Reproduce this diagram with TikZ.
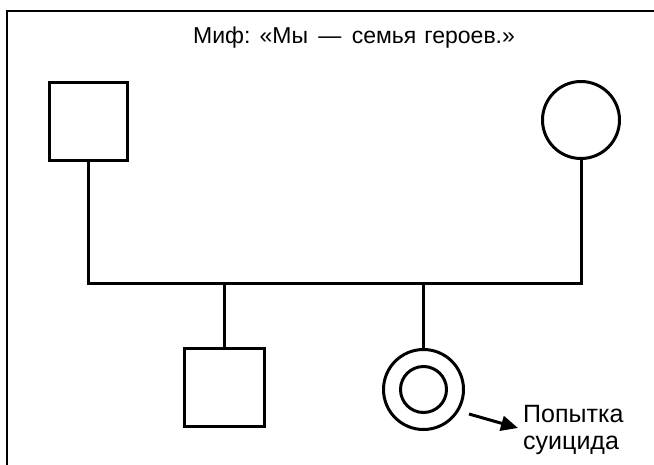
\documentclass[tikz,border=0pt]{standalone}
\usepackage{fontspec}
\setmainfont{Liberation Sans}
\usetikzlibrary{arrows.meta}
\begin{document}
\begin{tikzpicture}[x=1pt,y=-1pt,
  thickline/.style={line width=3pt},
  malebox/.style={draw,line width=3pt,rectangle,minimum width=78pt,minimum height=78pt,inner sep=0pt},
  femalecirc/.style={draw,line width=3pt,circle,minimum size=77pt,inner sep=0pt},
  txt/.style={font=\fontsize{25}{27}\selectfont,inner sep=0pt},
  pointer/.style={line width=3pt,-{Triangle[length=17pt,width=15pt]}}]
\useasboundingbox (0,0) rectangle (654,464);
\begin{scope}
\clip (0,0) rectangle (654,464);
\draw[line width=1.5pt] (7,670) -- (7,11) -- (700,11);
\end{scope}
\node[txt,font=\fontsize{23}{27}\selectfont,anchor=base] (title) at (354,43) {Миф:\hspace{0.4em}«Мы\hspace{0.45em}—\hspace{0.45em}семья\hspace{0.35em}героев.»};
\node[malebox] (father) at (88.5,121.5) {};
\node[femalecirc] (mother) at (581,120) {};
\node[malebox,minimum width=80pt] (son) at (224.5,387.5) {};
\node[femalecirc,minimum size=80pt] (daughter) at (423.5,389.5) {};
\node[draw,line width=3pt,circle,minimum size=46pt,inner sep=0pt] (inner) at (daughter.center) {};
\coordinate (bar) at (0,283);
\draw[thickline] (father.south) -- (father.south |- bar) -- (mother.south |- bar) -- (mother.south);
\draw[thickline] (son.north |- bar) -- (son.north);
\draw[thickline] (daughter.north |- bar) -- (daughter.north);
\node[txt,anchor=base west,align=left] (label) at (523,449) {Попытка\\суицида};
\coordinate (arrstart) at (469,414);
\coordinate (arrend) at (518,428);
\draw[pointer] (arrstart) -- (arrend);
\end{tikzpicture}
\end{document}
